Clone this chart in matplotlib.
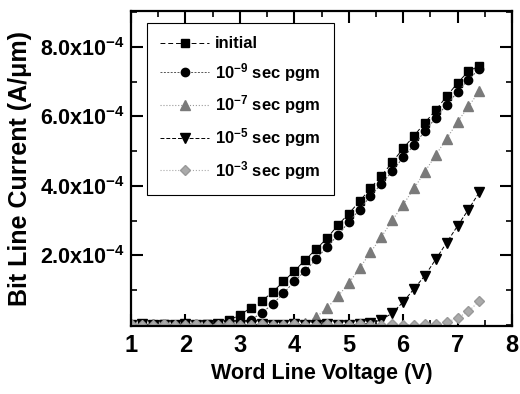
import matplotlib
matplotlib.use('Agg')
import matplotlib.pyplot as plt
from matplotlib.ticker import MultipleLocator, FixedLocator

plt.rcParams['font.family'] = ['Liberation Sans', 'DejaVu Sans']
plt.rcParams['font.weight'] = 'bold'
plt.rcParams['mathtext.fontset'] = 'custom'
plt.rcParams['mathtext.rm'] = 'Liberation Sans:bold'
plt.rcParams['mathtext.it'] = 'Liberation Sans:bold'
plt.rcParams['mathtext.bf'] = 'Liberation Sans:bold'

# word line voltage (V)
voltage = [1.0, 1.2, 1.4, 1.6, 1.8, 2.0, 2.2, 2.4, 2.6, 2.8, 3.0, 3.2, 3.4, 3.6, 3.8, 4.0, 4.2,
           4.4, 4.6, 4.8, 5.0, 5.2, 5.4, 5.6, 5.8, 6.0, 6.2, 6.4, 6.6, 6.8, 7.0, 7.2, 7.4]

# bit line current, in units of 1e-4 A/um
initial = [0.01, 0.02, 0.01, 0.02, 0.01, 0.02, 0.01, 0.02, 0.04, 0.13, 0.29, 0.49, 0.69,
           0.94, 1.25, 1.55, 1.87, 2.18, 2.49, 2.87, 3.20, 3.56, 3.93, 4.29, 4.68, 5.08,
           5.44, 5.82, 6.18, 6.58, 6.96, 7.30, 7.45]
pgm_1e9 = [0.01, 0.01, 0.02, 0.01, 0.01, 0.02, 0.01, 0.01, 0.02, 0.02, 0.04, 0.15, 0.34,
           0.60, 0.91, 1.25, 1.56, 1.89, 2.25, 2.58, 2.96, 3.32, 3.71, 4.06, 4.42, 4.82,
           5.17, 5.58, 5.96, 6.34, 6.70, 7.06, 7.36]
pgm_1e7 = [0.02, 0.01, 0.01, 0.02, 0.01, 0.01, 0.02, 0.01, 0.01, 0.02, 0.01, 0.01, 0.02,
           0.01, 0.01, 0.02, 0.05, 0.22, 0.49, 0.82, 1.20, 1.63, 2.09, 2.53, 3.01, 3.46,
           3.93, 4.41, 4.89, 5.36, 5.84, 6.29, 6.72]
pgm_1e5 = [0.01, 0.02, 0.01, 0.01, 0.01, 0.02, 0.01, 0.01, 0.02, 0.01, 0.01, 0.01, 0.02,
           0.01, 0.01, 0.02, 0.01, 0.01, 0.02, 0.01, 0.01, 0.02, 0.05, 0.15, 0.34, 0.66,
           1.04, 1.42, 1.89, 2.37, 2.85, 3.32, 3.82]
pgm_1e3 = [0.02, 0.01, 0.01, 0.02, 0.01, 0.01, 0.02, 0.01, 0.01, 0.02, 0.01, 0.01, 0.02,
           0.01, 0.01, 0.02, 0.01, 0.01, 0.02, 0.01, 0.01, 0.02, 0.01, 0.01, 0.02, 0.01,
           0.01, 0.02, 0.03, 0.08, 0.20, 0.39, 0.69]

labels = ['initial', '10$^{-9}$ sec pgm', '10$^{-7}$ sec pgm',
          '10$^{-5}$ sec pgm', '10$^{-3}$ sec pgm']
ytick_vals = [2.0e-4, 4.0e-4, 6.0e-4, 8.0e-4]
ytick_labels = ['2.0x10$^{-4}$', '4.0x10$^{-4}$', '6.0x10$^{-4}$', '8.0x10$^{-4}$']

fig = plt.figure(figsize=(5.2, 3.94), dpi=100)
ax = fig.add_axes([0.252, 0.1726, 0.7326, 0.7994])

scale = 1e-4
ax.plot(voltage, [v * scale for v in initial], color='black', ls=(0, (5, 3)), lw=0.7,
        marker='s', ms=5.5, mfc='black', mec='black', label=labels[0])
ax.plot(voltage, [v * scale for v in pgm_1e9], color='#555555', ls=(0, (2, 1.5)), lw=0.7,
        marker='o', ms=6, mfc='black', mec='black', label=labels[1])
ax.plot(voltage, [v * scale for v in pgm_1e7], color='#999999', ls=':', lw=0.8,
        marker='^', ms=6.5, mfc='#7a7a7a', mec='#7a7a7a', label=labels[2])
ax.plot(voltage, [v * scale for v in pgm_1e5], color='black', ls=(0, (4, 2)), lw=0.7,
        marker='v', ms=7, mfc='black', mec='black', label=labels[3])
ax.plot(voltage, [v * scale for v in pgm_1e3], color='#aaaaaa', ls=':', lw=0.8,
        marker='D', ms=5, mfc='#aaaaaa', mec='#999999', label=labels[4])

ax.set_xlim(1, 8)
ax.set_ylim(-0.03e-4, 9.03e-4)
ax.xaxis.set_major_locator(MultipleLocator(1))
ax.xaxis.set_minor_locator(MultipleLocator(0.5))
ax.yaxis.set_major_locator(FixedLocator(ytick_vals))
ax.set_yticklabels(ytick_labels)
ax.yaxis.set_minor_locator(MultipleLocator(1e-4))

ax.tick_params(axis='both', which='major', direction='in', length=8.5, width=1.5,
               top=True, right=True)
ax.tick_params(axis='both', which='minor', direction='in', length=4.5, width=1.2,
               top=True, right=True)
ax.tick_params(axis='x', which='major', labelsize=17, pad=6)
ax.tick_params(axis='y', which='major', labelsize=15.5, pad=4)
for axis in ['top', 'bottom', 'left', 'right']:
    ax.spines[axis].set_linewidth(1.6)

ax.set_xlabel('Word Line Voltage (V)', fontsize=15.5, fontweight='bold', labelpad=4)
ax.set_ylabel('Bit Line Current (A/\u03bcm)', fontsize=18, fontweight='bold', labelpad=6)

leg = ax.legend(loc='upper left', bbox_to_anchor=(0.042, 0.962), borderaxespad=0,
                fontsize=12, numpoints=1, handlelength=2.9, handletextpad=0.4,
                labelspacing=0.58, fancybox=False, framealpha=1, edgecolor='black',
                borderpad=0.8)
leg.get_frame().set_linewidth(0.8)

fig.savefig('out.png', dpi=100)
